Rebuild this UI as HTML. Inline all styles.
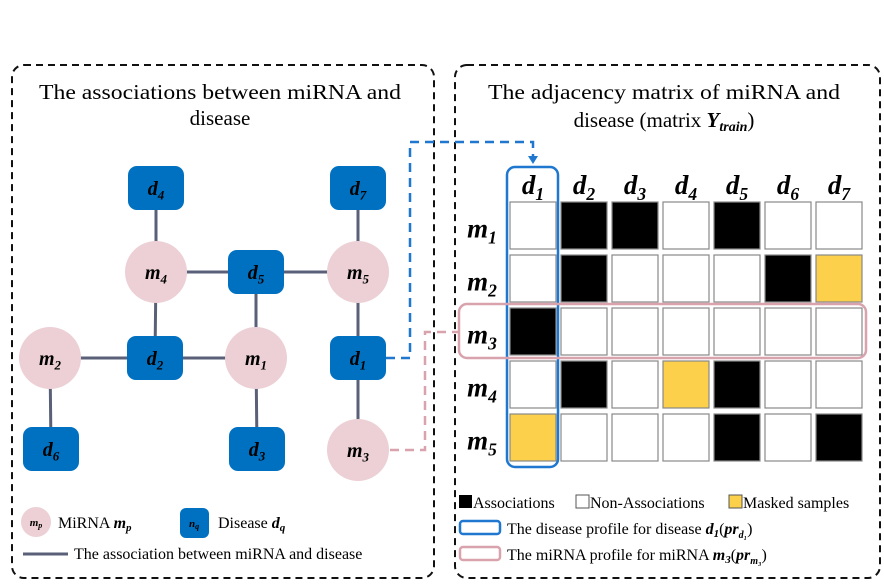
<!DOCTYPE html>
<html><head><meta charset="utf-8"><style>
html,body{margin:0;padding:0;background:#fff;width:884px;height:588px;overflow:hidden}
svg{display:block}
text{font-family:"Liberation Serif",serif}
.it{font-style:italic;font-weight:bold}
</style></head><body>
<svg id="fig" width="884" height="588" viewBox="0 0 884 588">
<rect x="12" y="65" width="422" height="513" rx="12" fill="none" stroke="#111" stroke-width="2" stroke-dasharray="7,5"/>
<rect x="455" y="65" width="425" height="513" rx="12" fill="none" stroke="#111" stroke-width="2" stroke-dasharray="7,5"/>
<text x="220" y="99" font-size="21" text-anchor="middle" textLength="362" lengthAdjust="spacingAndGlyphs">The associations between miRNA and</text>
<text x="220" y="125" font-size="21" text-anchor="middle">disease</text>
<text x="664" y="99" font-size="21" text-anchor="middle" textLength="352" lengthAdjust="spacingAndGlyphs">The adjacency matrix of miRNA and</text>
<text x="664" y="127" font-size="21" text-anchor="middle">disease (matrix <tspan class="it">Y</tspan><tspan class="it" font-size="14" dy="4">train</tspan><tspan dy="-4">)</tspan></text>
<g id="net"></g>
<path d="M386 358 H410 V142 H533 V156" fill="none" stroke="#1f77d0" stroke-width="2.5" stroke-dasharray="9,6"/>
<polygon points="528,156 538,156 533,164" fill="#1f77d0"/>
<path d="M390 450 H425 V332 H459" fill="none" stroke="#d9a3ad" stroke-width="2.5" stroke-dasharray="9,6"/>
<g id="mat"></g>
<rect x="507" y="167" width="51" height="300" rx="8" fill="none" stroke="#1f77d0" stroke-width="2.5"/>
<rect x="459" y="304" width="407" height="54" rx="8" fill="none" stroke="#d9a3ad" stroke-width="2.5"/>
<!-- right legend -->
<rect x="459" y="495" width="13" height="13" fill="#000"/>
<text x="473" y="508" font-size="16">Associations</text>
<rect x="576" y="495" width="13" height="13" fill="#fff" stroke="#555"/>
<text x="590" y="508" font-size="16">Non-Associations</text>
<rect x="729" y="495" width="13" height="13" fill="#fcd04a" stroke="#555"/>
<text x="743" y="508" font-size="16">Masked samples</text>
<rect x="460" y="521" width="40" height="13" rx="3" fill="none" stroke="#1f77d0" stroke-width="2.5"/>
<text x="507" y="534" font-size="16">The disease profile for disease <tspan class="it">d</tspan><tspan class="it" font-size="11" dy="3">1</tspan><tspan dy="-3">(</tspan><tspan class="it">pr</tspan><tspan class="it" font-size="10" dy="4">d₁</tspan><tspan dy="-4">)</tspan></text>
<rect x="460" y="547" width="40" height="13" rx="3" fill="none" stroke="#d9a3ad" stroke-width="2.5"/>
<text x="507" y="560" font-size="16">The miRNA profile for miRNA <tspan class="it">m</tspan><tspan class="it" font-size="11" dy="3">3</tspan><tspan dy="-3">(</tspan><tspan class="it">pr</tspan><tspan class="it" font-size="10" dy="4">m₃</tspan><tspan dy="-4">)</tspan></text>
<!-- left legend -->
<circle cx="36" cy="522" r="15" fill="#ecd0d5"/>
<text x="36" y="526" font-size="11" text-anchor="middle" class="it">m<tspan font-size="8" dy="2">p</tspan></text>
<text x="58" y="528" font-size="16">MiRNA <tspan class="it">m</tspan><tspan class="it" font-size="11" dy="3">p</tspan></text>
<rect x="180" y="508" width="29" height="30" rx="6" fill="#0070c0"/>
<text x="194" y="527" font-size="11" text-anchor="middle" class="it">n<tspan font-size="8" dy="2">q</tspan></text>
<text x="218" y="528" font-size="16">Disease <tspan class="it">d</tspan><tspan class="it" font-size="11" dy="3">q</tspan></text>
<line x1="23" y1="554" x2="68" y2="554" stroke="#5a6078" stroke-width="3"/>
<text x="74" y="559" font-size="16">The association between miRNA and disease</text>
</svg>
<script>
const diseases=["d1","d2","d3","d4","d5","d6","d7"];
const mirnas=["m1","m2","m3","m4","m5"];
const row1=[0,1,1,0,1,0,0];
const row2=[0,1,0,0,0,1,2];
const row3=[1,0,0,0,0,0,0];
const row4=[0,1,0,2,1,0,0];
const row5=[2,0,0,0,1,0,1];
const rows=[row1,row2,row3,row4,row5];
const NS="http://www.w3.org/2000/svg";
function mk(t,a,p){const e=document.createElementNS(NS,t);for(const k in a)e.setAttribute(k,a[k]);p.appendChild(e);return e;}
function lab(p,x,y,base,sub,fs,col){const t=mk('text',{x:x,y:y,'font-size':fs,'text-anchor':'middle',fill:col||'#000','class':'it'},p);t.textContent=base;const s=mk('tspan',{'font-size':fs*0.65,dy:fs*0.22},t);s.textContent=sub;return t;}
// matrix
const mat=document.getElementById('mat');
const x0=510,y0=202,cw=51,ch=53,sw=46,sh=47;
const colX=i=>x0+i*cw, rowY=j=>y0+j*ch;
const fills=["#fff","#000","#fcd04a"];
diseases.forEach((d,i)=>{const t=lab(mat,colX(i)+sw/2,194,d[0],d[1],27);

});
mirnas.forEach((m,j)=>{const t=lab(mat,482,rowY(j)+sh/2+12,m[0],m[1],27);


rows[j].forEach((v,i)=>{const r=mk('rect',{x:colX(i),y:rowY(j),width:sw,height:sh,fill:fills[v],stroke:'#888','stroke-width':1.2},mat);

});});
// network
const net=document.getElementById('net');
const nodes={m4:[156,272],m5:[358,272],m2:[50,358],m1:[256,358],m3:[358,450],
d4:[156,188],d7:[358,188],d5:[256,272],d2:[155,358],d1:[358,358],d6:[51,449],d3:[257,449]};
const edges=[["m4","d4"],["m5","d7"],["m4","d5"],["d5","m5"],["m4","d2"],["d5","m1"],["m5","d1"],["m2","d2"],["d2","m1"],["m2","d6"],["m1","d3"],["d1","m3"]];
edges.forEach(e=>{const a=nodes[e[0]],b=nodes[e[1]];const l=mk('line',{x1:a[0],y1:a[1],x2:b[0],y2:b[1],stroke:'#5a6078','stroke-width':3},net);

});
Object.keys(nodes).forEach(k=>{const p=nodes[k];let s;
if(k[0]==='m'){s=mk('circle',{cx:p[0],cy:p[1],r:31,fill:'#ecd0d5'},net);}
else{s=mk('rect',{x:p[0]-28,y:p[1]-22,width:56,height:44,rx:9,fill:'#0070c0'},net);}


const t=lab(net,p[0],p[1]+7,k[0],k[1],20);

});
</script>
</body></html>
